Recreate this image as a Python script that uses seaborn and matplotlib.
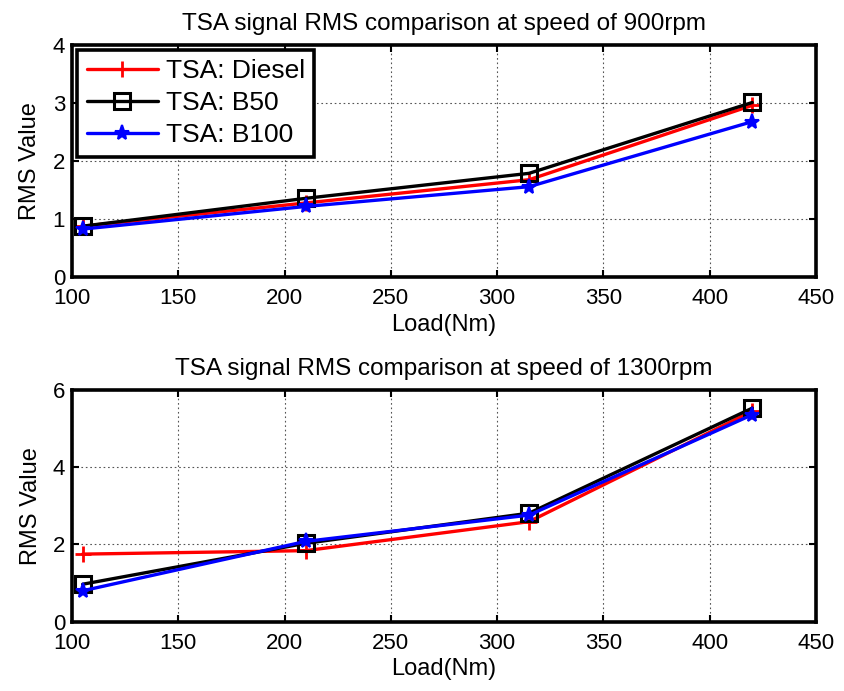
import matplotlib
matplotlib.use("Agg")
import matplotlib.pyplot as plt
import seaborn as sns
import pandas as pd

loads = [105, 210, 315, 420]
series_names = ["TSA: Diesel", "TSA: B50", "TSA: B100"]

rms_900_diesel = [0.88, 1.28, 1.68, 2.96]
rms_900_b50 = [0.88, 1.36, 1.79, 3.01]
rms_900_b100 = [0.83, 1.22, 1.56, 2.68]

rms_1300_diesel = [1.75, 1.84, 2.59, 5.45]
rms_1300_b50 = [0.97, 2.03, 2.81, 5.53]
rms_1300_b100 = [0.80, 2.08, 2.76, 5.36]

titles = ["TSA signal RMS comparison at speed of 900rpm",
          "TSA signal RMS comparison at speed of 1300rpm"]
x_ticks = [100, 150, 200, 250, 300, 350, 400, 450]
y_ticks_top = [0, 1, 2, 3, 4]
y_ticks_bottom = [0, 2, 4, 6]

sns.set_theme(style="white")
plt.rcParams['font.family'] = ['Liberation Sans', 'DejaVu Sans']
plt.rcParams['text.color'] = 'black'
plt.rcParams['axes.labelcolor'] = 'black'
plt.rcParams['axes.titlecolor'] = 'black'
plt.rcParams['xtick.color'] = 'black'
plt.rcParams['ytick.color'] = 'black'
plt.rcParams['legend.labelcolor'] = 'black'

styles = {
    "TSA: Diesel": dict(color="#ff0000", marker="+", markersize=12, markeredgewidth=2.0,
                        markeredgecolor="#ff0000", markerfacecolor="#ff0000"),
    "TSA: B50": dict(color="#000000", marker="s", markersize=11.5, markeredgewidth=2.2,
                     markeredgecolor="#000000", markerfacecolor="none"),
    "TSA: B100": dict(color="#0000ff", marker="*", markersize=11, markeredgewidth=1.5,
                      markeredgecolor="#0000ff", markerfacecolor="#0000ff"),
}

fig = plt.figure(figsize=(8.45, 6.91), dpi=100)
ax1 = fig.add_axes([0.0852, 0.5987, 0.8805, 0.3362])
ax2 = fig.add_axes([0.0852, 0.1003, 0.8805, 0.3353])

datasets = [
    (ax1, [rms_900_diesel, rms_900_b50, rms_900_b100], (0, 4), y_ticks_top, titles[0]),
    (ax2, [rms_1300_diesel, rms_1300_b50, rms_1300_b100], (0, 6), y_ticks_bottom, titles[1]),
]

FS_TICK = 16
FS_LAB = 17
for ax, vals, ylim, yticks, title in datasets:
    for name, v in zip(series_names, vals):
        df = pd.DataFrame({"Load": loads, "RMS": v})
        sns.lineplot(data=df, x="Load", y="RMS", ax=ax, label=name,
                     linewidth=2.4, **styles[name])
    ax.set_xlim(100, 450)
    ax.set_ylim(*ylim)
    ax.set_xticks(x_ticks)
    ax.set_yticks(yticks)
    ax.set_xticklabels([str(t) for t in x_ticks], fontsize=FS_TICK, color="black")
    ax.set_yticklabels([str(t) for t in yticks], fontsize=FS_TICK, color="black")
    ax.set_xlabel("Load(Nm)", fontsize=FS_LAB, labelpad=3, color="black")
    ax.set_ylabel("RMS Value", fontsize=FS_LAB, labelpad=8, color="black")
    ax.set_title(title, fontsize=17.5, pad=11, color="black")
    ax.grid(True, color="#555555", linestyle=(0, (1.5, 2.5)), linewidth=0.8)
    for sp in ax.spines.values():
        sp.set_visible(True)
        sp.set_color("black")
        sp.set_linewidth(2.6)
    ax.tick_params(axis="both", which="both", direction="in", length=5, width=1.5,
                   top=True, right=True, bottom=True, left=True, colors="black")
    ax.tick_params(axis="x", pad=8)
    ax.tick_params(axis="y", pad=5)

leg = ax1.legend(loc="upper left", fontsize=19, frameon=True, fancybox=False,
                 handlelength=2.7, borderaxespad=0.2, labelspacing=0.3,
                 handletextpad=0.3, borderpad=0.35)
leg.get_frame().set_edgecolor("black")
leg.get_frame().set_linewidth(2.6)
leg.get_frame().set_alpha(1)
for t in leg.get_texts():
    t.set_color("black")
if ax2.get_legend() is not None:
    ax2.get_legend().remove()

fig.savefig("out.png", dpi=100, facecolor="white")
